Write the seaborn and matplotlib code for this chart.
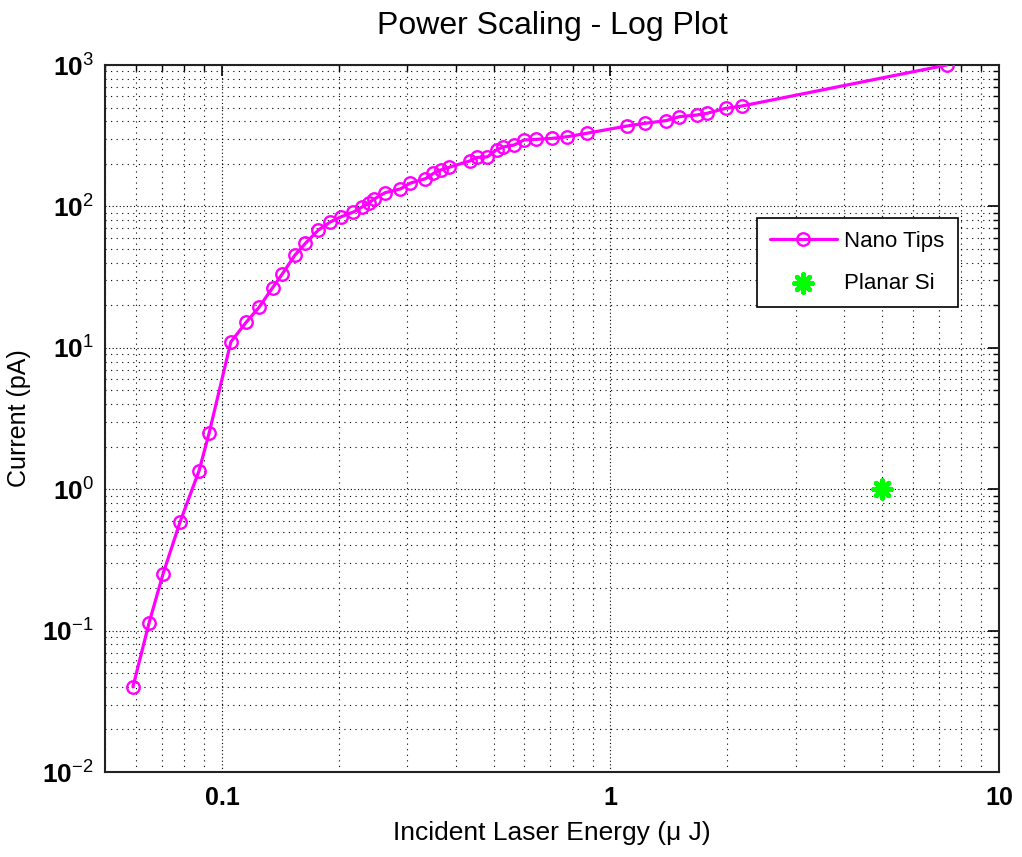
import matplotlib
matplotlib.use("Agg")
import matplotlib.pyplot as plt
import seaborn as sns
import pandas as pd
from matplotlib.ticker import FixedLocator, LogLocator, NullFormatter, FixedFormatter

# ---- data ----
energy_uj = [0.059, 0.0649, 0.0705, 0.078, 0.0873, 0.0927, 0.1054, 0.1153, 0.1245,
             0.135, 0.143, 0.154, 0.164, 0.177, 0.190, 0.203, 0.218, 0.230, 0.239,
             0.2455, 0.263, 0.288, 0.305, 0.334, 0.350, 0.366, 0.384, 0.435, 0.453,
             0.482, 0.509, 0.529, 0.565, 0.599, 0.645, 0.708, 0.774, 0.869, 1.10,
             1.227, 1.387, 1.504, 1.667, 1.77, 1.98, 2.18, 7.34]
current_pa = [0.040, 0.113, 0.251, 0.586, 1.35, 2.50, 11.0, 15.1, 19.3,
              26.6, 33.3, 45.1, 54.8, 68.0, 77.6, 84.6, 91.3, 99.5, 106,
              112, 125, 133, 146, 157, 171, 181, 189, 210, 222,
              224, 251, 263, 272, 295, 298, 303, 311, 329, 370,
              387, 404, 431, 443, 455, 494, 513, 1000]
planar_energy = [5.0]
planar_current = [1.0]

x_ticks = [0.1, 1, 10]
x_tick_labels = ["0.1", "1", "10"]
y_exponents = [-2, -1, 0, 1, 2, 3]

nano = pd.DataFrame({"energy": energy_uj, "current": current_pa})
planar = pd.DataFrame({"energy": planar_energy, "current": planar_current})

sns.set_theme(style="white")
plt.rcParams["font.family"] = ["Liberation Sans", "DejaVu Sans"]
plt.rcParams["mathtext.fontset"] = "custom"
plt.rcParams["mathtext.rm"] = "Liberation Sans"
plt.rcParams["mathtext.bf"] = "Liberation Sans:bold"
plt.rcParams["mathtext.it"] = "Liberation Sans:italic"
for key in ["text.color", "axes.labelcolor", "xtick.color", "ytick.color"]:
    plt.rcParams[key] = "black"

fig = plt.figure(figsize=(10.22, 8.57), dpi=100)
ax = fig.add_axes([105 / 1022, 1 - 772 / 857, 894 / 1022, 707 / 857])

sns.lineplot(data=nano, x="energy", y="current", ax=ax, sort=False, estimator=None,
             color="#ff00ff", linewidth=2.3, marker="o", markersize=9,
             markerfacecolor="none", markeredgecolor="#ff00ff", markeredgewidth=1.7,
             label="Nano Tips", zorder=4)
sns.scatterplot(data=planar, x="energy", y="current", ax=ax, marker=(8, 2, 0),
                s=160, color="#00ff00", edgecolor="#00ff00", linewidth=3.5,
                label="Planar Si", zorder=5)

ax.set_xscale("log")
ax.set_yscale("log")
ax.set_xlim(0.05, 10)
ax.set_ylim(1e-2, 1e3)

ax.xaxis.set_major_locator(FixedLocator(x_ticks))
ax.xaxis.set_major_formatter(FixedFormatter(x_tick_labels))
ax.xaxis.set_minor_locator(LogLocator(base=10, subs=[2, 3, 4, 5, 6, 7, 8, 9]))
ax.xaxis.set_minor_formatter(NullFormatter())

y_ticks = [10.0 ** e for e in y_exponents]
ax.yaxis.set_major_locator(FixedLocator(y_ticks))
ax.yaxis.set_major_formatter(FixedFormatter(
    [r"$\mathbf{10}^{\mathregular{%d}}$" % e for e in y_exponents]))
ax.yaxis.set_minor_locator(LogLocator(base=10, subs=[2, 3, 4, 5, 6, 7, 8, 9]))
ax.yaxis.set_minor_formatter(NullFormatter())

ax.tick_params(which="both", direction="in", top=True, right=True, color="black")
ax.tick_params(which="major", length=8, width=1.2)
ax.tick_params(which="minor", length=4, width=1.0)
ax.tick_params(axis="x", which="major", labelsize=18, pad=10)
ax.tick_params(axis="y", which="major", labelsize=19, pad=8)
for lab in ax.get_xticklabels():
    lab.set_fontweight("bold")

ax.grid(which="major", linestyle=(0, (1, 2.2)), color="black", linewidth=0.8)
ax.grid(which="minor", linestyle=(0, (1, 4)), color="black", linewidth=0.8)
for s in ax.spines.values():
    s.set_color("#222222")
    s.set_linewidth(1.5)

ax.set_title("Power Scaling - Log Plot", fontsize=23, pad=22)
ax.set_xlabel("Incident Laser Energy (μ J)", fontsize=19, labelpad=8)
ax.set_ylabel("Current (pA)", fontsize=18, labelpad=8)

leg = ax.legend(loc="upper right", bbox_to_anchor=(0.954, 0.784), fontsize=16,
                frameon=True, fancybox=False, edgecolor="black", framealpha=1,
                handlelength=3.0, handletextpad=0.35, labelspacing=0.95,
                borderpad=0.6, borderaxespad=0)
leg.get_frame().set_linewidth(1.2)

fig.savefig("out.png", dpi=100)
